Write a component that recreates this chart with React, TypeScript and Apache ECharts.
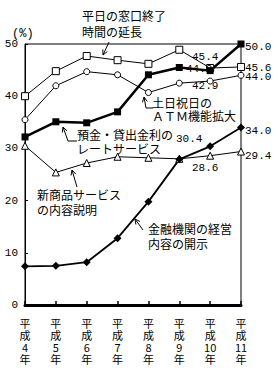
import React, { useEffect, useRef } from "react";
import * as echarts from "echarts";

const categories = ["平成4年", "平成5年", "平成6年", "平成7年", "平成8年", "平成9年", "平成10年", "平成11年"];
const weekdayWindow = [40.0, 44.8, 47.7, 46.9, 46.2, 48.9, 45.4, 45.6];
const holidayAtm = [35.5, 42.0, 44.7, 44.1, 40.7, 42.5, 42.9, 44.0];
const rateService = [32.2, 35.1, 34.9, 37.0, 44.1, 45.5, 44.9, 50.0];
const newProduct = [30.5, 25.4, 27.2, 28.4, 28.2, 28.0, 28.6, 29.4];
const disclosure = [7.4, 7.5, 8.2, 12.8, 19.8, 27.9, 30.4, 34.0];
const yTicks = [0, 10, 20, 30, 40, 50];

const CJK = "'Noto Sans CJK JP', sans-serif";
const NUM = "'Liberation Mono', 'DejaVu Sans Mono', monospace";

type LabelCfg = { offset: [number, number]; align: "left" | "center" };

function withLabels(values: number[], cfg: Record<number, LabelCfg>) {
  return values.map((v, i) => {
    const c = cfg[i];
    if (!c) return v;
    return {
      value: v,
      label: {
        show: true,
        position: "inside",
        offset: c.offset,
        align: c.align,
        verticalAlign: "middle",
        formatter: (p: any) => Number(p.value).toFixed(1),
        color: "#000",
        fontSize: 11,
        fontFamily: NUM,
      },
    };
  });
}

function arrow(points: number[][]) {
  const n = points.length;
  const tip = points[n - 1];
  const prev = points[n - 2];
  const dx = tip[0] - prev[0];
  const dy = tip[1] - prev[1];
  const len = Math.sqrt(dx * dx + dy * dy) || 1;
  const ux = dx / len;
  const uy = dy / len;
  const px = -uy;
  const py = ux;
  const h = 5;
  const w = 2.5;
  const a = [tip[0] - ux * h + px * w, tip[1] - uy * h + py * w];
  const b = [tip[0] - ux * h - px * w, tip[1] - uy * h - py * w];
  return [
    { type: "polyline", shape: { points }, style: { stroke: "#000", lineWidth: 1, fill: null }, z: 10 },
    { type: "polyline", shape: { points: [a, tip, b] }, style: { stroke: "#000", lineWidth: 1, fill: null }, z: 10 },
  ];
}

function txt(text: string, x: number, y: number, lineHeight = 15) {
  return {
    type: "text",
    x,
    y,
    style: {
      text,
      fill: "#000",
      fontSize: 12,
      fontFamily: CJK,
      lineHeight,
      textAlign: "left",
      textVerticalAlign: "top",
    },
    z: 10,
  };
}

export default function App() {
  const ref = useRef<HTMLDivElement>(null);
  useEffect(() => {
    if (!ref.current) return;
    const chart = echarts.init(ref.current, null, { renderer: "svg" });
    const lineBase = {
      type: "line",
      animation: false,
      showAllSymbol: true,
    };
    chart.setOption({
      animation: false,
      backgroundColor: "#fff",
      grid: {
        left: 25,
        right: 37,
        top: 44,
        bottom: 66,
        show: true,
        borderColor: "#000",
        borderWidth: 1,
        backgroundColor: "transparent",
      },
      xAxis: {
        type: "category",
        data: categories,
        boundaryGap: false,
        axisLine: { show: true, lineStyle: { color: "#000", width: 3 } },
        axisTick: { show: true, inside: true, length: 4, lineStyle: { color: "#000", width: 1.5 } },
        axisLabel: {
          interval: 0,
          margin: 12,
          color: "#000",
          fontSize: 11,
          lineHeight: 12,
          fontFamily: CJK,
          formatter: (v: string) => v.replace(/^平成(\d+)年$/, "平\n成\n$1\n年"),
        },
        splitLine: { show: false },
      },
      yAxis: {
        type: "value",
        min: yTicks[0],
        max: yTicks[yTicks.length - 1],
        interval: 10,
        axisLine: { show: true, lineStyle: { color: "#000", width: 1 } },
        axisTick: { show: true, inside: true, length: 3, lineStyle: { color: "#000" } },
        axisLabel: { color: "#000", fontSize: 11, fontFamily: NUM, margin: 7 },
        splitLine: { show: false },
      },
      series: [
        {
          ...lineBase,
          name: "平日の窓口終了時間の延長",
          symbol: "rect",
          symbolSize: 7,
          itemStyle: { color: "#fff", borderColor: "#000", borderWidth: 1 },
          lineStyle: { color: "#000", width: 1 },
          data: withLabels(weekdayWindow, {
            6: { offset: [-5, -11], align: "center" },
            7: { offset: [4, 1], align: "left" },
          }),
        },
        {
          ...lineBase,
          name: "土日祝日のATM機能拡大",
          symbol: "circle",
          symbolSize: 6,
          itemStyle: { color: "#fff", borderColor: "#000", borderWidth: 1 },
          lineStyle: { color: "#000", width: 1 },
          data: withLabels(holidayAtm, {
            6: { offset: [-5, 5], align: "center" },
            7: { offset: [4, 2], align: "left" },
          }),
        },
        {
          ...lineBase,
          name: "預金・貸出金利のレートサービス",
          symbol: "rect",
          symbolSize: 7,
          itemStyle: { color: "#000" },
          lineStyle: { color: "#000", width: 2.5 },
          data: withLabels(rateService, {
            6: { offset: [-11, -2], align: "center" },
            7: { offset: [4, 3], align: "left" },
          }),
        },
        {
          ...lineBase,
          name: "新商品サービスの内容説明",
          symbol: "triangle",
          symbolSize: 7,
          itemStyle: { color: "#fff", borderColor: "#000", borderWidth: 1 },
          lineStyle: { color: "#000", width: 1 },
          data: withLabels(newProduct, {
            6: { offset: [-5, 12], align: "center" },
            7: { offset: [4, 4], align: "left" },
          }),
        },
        {
          ...lineBase,
          name: "金融機関の経営内容の開示",
          symbol: "diamond",
          symbolSize: 8,
          itemStyle: { color: "#000" },
          lineStyle: { color: "#000", width: 1.8 },
          data: withLabels(disclosure, {
            6: { offset: [-21, -7], align: "center" },
            7: { offset: [4, 3], align: "left" },
          }),
        },
      ],
      graphic: [
        {
          type: "text",
          x: 12,
          y: 34,
          style: { text: "(%)", fill: "#000", fontSize: 12, fontFamily: NUM, textVerticalAlign: "middle" },
        },
        txt("平日の窓口終了\n時間の延長", 82, 7, 16),
        ...arrow([[109, 42], [103, 55]]),
        txt("土日祝日の\nＡＴＭ機能拡大", 152, 96, 13),
        ...arrow([[153, 108], [146, 108], [144, 97]]),
        txt("預金・貸出金利の\nレートサービス", 77, 127, 14),
        ...arrow([[77, 141], [68, 141], [63, 127]]),
        txt("新商品サービス\nの内容説明", 37, 187, 15),
        ...arrow([[77, 187], [72, 170]]),
        txt("金融機関の経営\n内容の開示", 148, 221, 15),
        ...arrow([[143, 230], [135, 219]]),
      ],
    });
    return () => chart.dispose();
  }, []);
  return (
    <div
      ref={ref}
      style={{ position: "absolute", left: 0, top: 0, width: 278, height: 371 }}
    />
  );
}
